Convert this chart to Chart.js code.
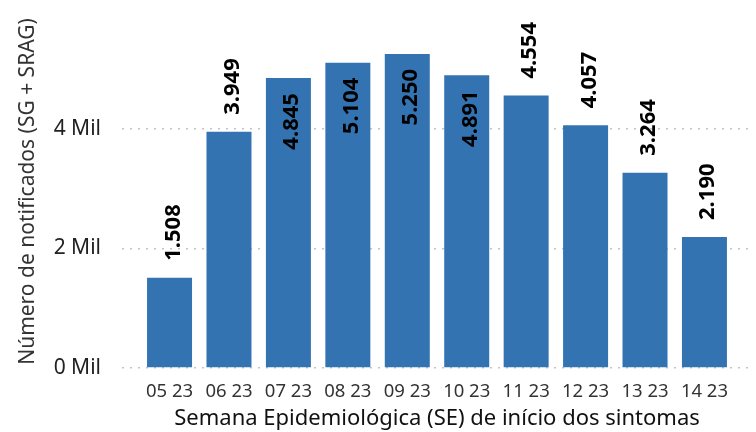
<!DOCTYPE html>
<html>
<head>
<meta charset="utf-8">
<script src="https://cdn.jsdelivr.net/npm/chart.js@4.4.0/dist/chart.umd.min.js"></script>
<style>
  body { margin: 0; background: #fff; }
  #wrap { width: 756px; height: 432px; }
</style>
</head>
<body>
<div id="wrap"><canvas id="myChart"></canvas></div>
<script>
// semanas epidemiologicas e casos notificados
var semanas = ['05 23', '06 23', '07 23', '08 23', '09 23', '10 23', '11 23', '12 23', '13 23', '14 23']
var notificados = [1508, 3949, 4845, 5104, 5250, 4891, 4554, 4057, 3264, 2190]
var yTicks = [0, 2000, 4000]

var fonte = "'Noto Sans', sans-serif"
var azul = '#3373b1'

// rotulos verticais em cima/dentro das barras
var rotulos = {
  id: 'rotulos',
  afterDatasetsDraw: function(chart) {
    var ctx = chart.ctx
    var meta = chart.getDatasetMeta(0)
    ctx.save()
    ctx.font = 'bold 22px ' + fonte
    ctx.fillStyle = '#000'
    ctx.textBaseline = 'alphabetic'
    meta.data.forEach(function(bar, i) {
      var v = notificados[i]
      var txt = v.toLocaleString('pt-BR')
      ctx.save()
      ctx.translate(bar.x, bar.y)
      ctx.rotate(-Math.PI / 2)
      if (v > 4600) {
        ctx.textAlign = 'right'
        ctx.fillText(txt, -15, 10)
      } else {
        ctx.textAlign = 'left'
        ctx.fillText(txt, 17, 10)
      }
      ctx.restore()
    })
    ctx.restore()
  }
}

const ctx = document.getElementById('myChart')

new Chart(ctx, {
  type: 'bar',
  data: {
    datasets: [{
      label: 'notificados',
      data: notificados.map(function(v, i) { return { x: i, y: v } }),
      backgroundColor: azul,
      borderWidth: 0,
      categoryPercentage: 1,
      barPercentage: 0.757
    }]
  },
  plugins: [rotulos],
  options: {
    responsive: true,
    maintainAspectRatio: false,
    animation: false,
    layout: { padding: { top: 15, right: 4, left: 0, bottom: 0 } },
    plugins: {
      legend: { display: false },
      tooltip: { enabled: false }
    },
    scales: {
      x: {
        type: 'linear',
        min: -0.8,
        max: 9.8,
        offset: false,
        afterBuildTicks: function(scale) {
          scale.ticks = semanas.map(function(s, i) { return { value: i } })
        },
        afterFit: function(scale) {
          scale.height = 64
          scale.paddingLeft = 0
          scale.paddingRight = 0
        },
        ticks: {
          autoSkip: false,
          maxRotation: 0,
          padding: 5,
          color: '#333',
          font: { family: fonte, size: 18.5 },
          callback: function(value) { return semanas[value] }
        },
        grid: { display: false },
        border: { display: false },
        title: {
          display: true,
          text: 'Semana Epidemiológica (SE) de início dos sintomas',
          color: '#111',
          font: { family: fonte, size: 22 },
          padding: { top: 0, bottom: 0 }
        }
      },
      y: {
        min: 0,
        max: 5900,
        afterBuildTicks: function(scale) {
          scale.ticks = yTicks.map(function(t) { return { value: t } })
        },
        afterFit: function(scale) {
          scale.width = 122
          scale.paddingTop = 0
          scale.paddingBottom = 0
        },
        ticks: {
          padding: 21,
          color: '#222',
          font: { family: fonte, size: 21 },
          callback: function(value) { return (value / 1000) + ' Mil' }
        },
        grid: {
          color: '#c4c4c4',
          lineWidth: 1.5,
          drawTicks: false
        },
        border: { display: false, dash: [2, 6] },
        title: {
          display: true,
          text: 'Número de notificados (SG + SRAG)',
          color: '#333',
          font: { family: fonte, size: 21 },
          padding: { top: 15, bottom: 0 }
        }
      }
    }
  }
})
</script>
</body>
</html>
